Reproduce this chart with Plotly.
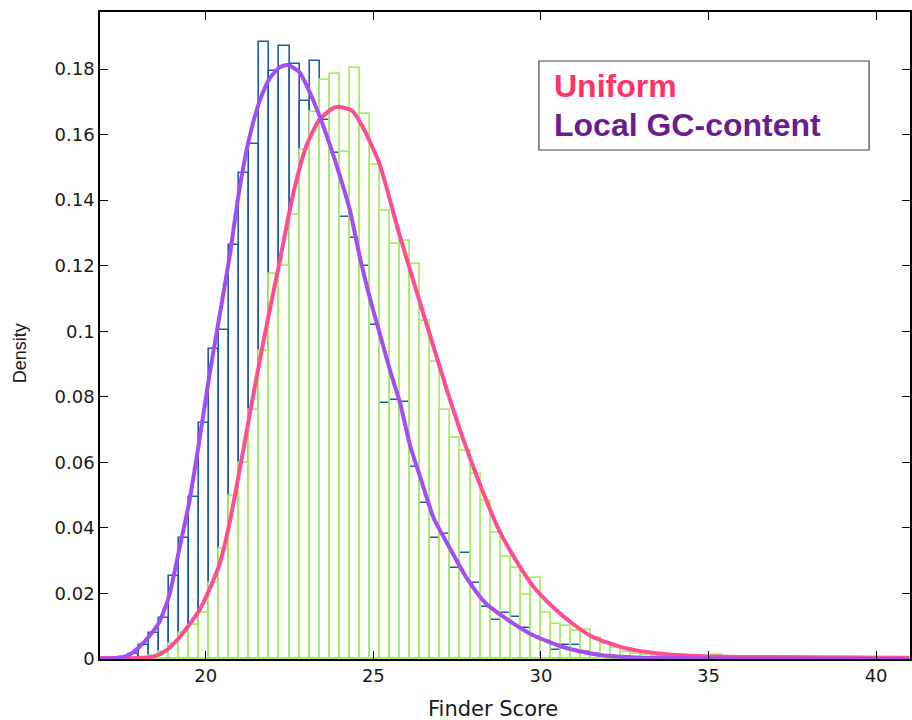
import plotly.graph_objects as go

# ---------------- data ----------------
bin_width = 0.3
# histogram bin centres (Finder Score)
local_bin_centers = [17.55, 17.85, 18.15, 18.45, 18.75, 19.05, 19.35, 19.65, 19.95, 20.25,
                     20.55, 20.85, 21.15, 21.45, 21.75, 22.05, 22.35, 22.65, 22.95, 23.25,
                     23.55, 23.85, 24.15, 24.45, 24.75, 25.05, 25.35, 25.65, 25.95, 26.25,
                     26.55, 26.85, 27.15, 27.45, 27.75, 28.05, 28.35, 28.65, 28.95, 29.25,
                     29.55, 29.85, 30.15, 30.45, 30.75, 31.05, 31.35, 31.65, 31.95, 32.25,
                     32.55, 32.85, 33.15]
local_density = [0.0005, 0.0015, 0.0043, 0.0078, 0.0124, 0.0253, 0.0368, 0.0495, 0.0719, 0.0946,
                 0.1003, 0.1263, 0.1483, 0.1570, 0.1881, 0.1794, 0.1871, 0.1814, 0.1703, 0.1824,
                 0.1646, 0.1545, 0.1349, 0.1285, 0.1198, 0.1020, 0.0780, 0.0790, 0.0784, 0.0587,
                 0.0477, 0.0368, 0.0381, 0.0277, 0.0322, 0.0231, 0.0160, 0.0119, 0.0139, 0.0127,
                 0.0096, 0.0068, 0.0055, 0.0027, 0.0042, 0.0042, 0.0020, 0.0014, 0.0010, 0.0007,
                 0.0004, 0.0003, 0.0002]

uniform_bin_centers = [18.45, 18.75, 19.05, 19.35, 19.65, 19.95, 20.25, 20.55, 20.85, 21.15,
                       21.45, 21.75, 22.05, 22.35, 22.65, 22.95, 23.25, 23.55, 23.85, 24.15,
                       24.45, 24.75, 25.05, 25.35, 25.65, 25.95, 26.25, 26.55, 26.85, 27.15,
                       27.45, 27.75, 28.05, 28.35, 28.65, 28.95, 29.25, 29.55, 29.85, 30.15,
                       30.45, 30.75, 31.05, 31.35, 31.65, 31.95, 32.25, 32.55, 32.85, 33.15,
                       33.45, 33.75, 34.05, 34.35, 34.65, 34.95, 35.25]
uniform_density = [0.0008, 0.0020, 0.0045, 0.0080, 0.0105, 0.0140, 0.0233, 0.0336, 0.0498, 0.0599,
                   0.0759, 0.0940, 0.1176, 0.1198, 0.1355, 0.1553, 0.1670, 0.1767, 0.1784, 0.1547,
                   0.1802, 0.1662, 0.1507, 0.1368, 0.1265, 0.1274, 0.1206, 0.1030, 0.0907, 0.0759,
                   0.0673, 0.0635, 0.0564, 0.0483, 0.0383, 0.0312, 0.0277, 0.0195, 0.0246, 0.0141,
                   0.0107, 0.0100, 0.0085, 0.0090, 0.0065, 0.0045, 0.0035, 0.0022, 0.0016, 0.0012,
                   0.0008, 0.0005, 0.0003, 0.0002, 0.0001, 0.0000, 0.0012]

# fitted density curves
local_fit_x = [16.85, 17.5, 17.8, 18.0, 18.3, 18.6, 18.9, 19.2, 19.5, 19.8, 20.1, 20.4, 20.7,
               21.0, 21.3, 21.6, 21.9, 22.2, 22.45, 22.8, 23.1, 23.4, 23.7, 24.0, 24.3, 24.6,
               24.9, 25.2, 25.5, 25.8, 26.1, 26.4, 26.8, 27.3, 27.8, 28.35, 28.95, 29.75, 30.7,
               31.7, 32.7, 34.0, 36.0, 41.0]
local_fit_y = [0.0, 0.0005, 0.0018, 0.0035, 0.0068, 0.0110, 0.0190, 0.0330, 0.0475, 0.0660,
               0.0860, 0.1040, 0.1220, 0.1430, 0.1590, 0.1700, 0.1770, 0.1805, 0.1812, 0.1790,
               0.1730, 0.1655, 0.1570, 0.1475, 0.1370, 0.1225, 0.1100, 0.0990, 0.0880, 0.0780,
               0.0650, 0.0555, 0.0430, 0.0335, 0.0245, 0.0170, 0.0124, 0.0073, 0.0035, 0.0013,
               0.0005, 0.0002, 0.0001, 0.0]

uniform_fit_x = [16.85, 18.0, 18.43, 18.8, 19.23, 19.82, 20.1, 20.42, 20.7, 21.01, 21.31, 21.61,
                 21.9, 22.2, 22.6, 23.0, 23.39, 23.79, 23.99, 24.38, 24.7, 25.18, 25.77, 26.37,
                 26.7, 27.26, 27.76, 28.25, 28.75, 29.25, 29.74, 30.34, 30.93, 31.53, 32.52,
                 33.51, 34.5, 36.0, 41.0]
uniform_fit_y = [0.0003, 0.0003, 0.0007, 0.0025, 0.0068, 0.0150, 0.0210, 0.0292, 0.0410, 0.0576,
                 0.0745, 0.0910, 0.1060, 0.1210, 0.1415, 0.1565, 0.1645, 0.1680, 0.1685, 0.1672,
                 0.1620, 0.1512, 0.1298, 0.1095, 0.0985, 0.0800, 0.0648, 0.0515, 0.0393, 0.0302,
                 0.0226, 0.0160, 0.0109, 0.0068, 0.0033, 0.0017, 0.0010, 0.0006, 0.0004]

y_ticks = [0, 0.02, 0.04, 0.06, 0.08, 0.1, 0.12, 0.14, 0.16, 0.18]
y_tick_text = ["0", "0.02", "0.04", "0.06", "0.08", "0.1", "0.12", "0.14", "0.16", "0.18"]
x_ticks = [20, 25, 30, 35, 40]

# ---------------- figure ----------------
W, H = 912, 720
ML, MR, MT, MB = 100, 0, 12, 61
fig = go.Figure()

fig.add_trace(go.Bar(x=local_bin_centers, y=local_density, width=bin_width,
                     marker=dict(color="rgba(0,0,0,0)", line=dict(color="#1F5BA8", width=1.6)),
                     name="Local GC-content histogram"))
fig.add_trace(go.Bar(x=uniform_bin_centers, y=uniform_density, width=bin_width,
                     marker=dict(color="rgba(0,0,0,0)", line=dict(color="#A9EE68", width=1.8)),
                     name="Uniform histogram"))
fig.add_trace(go.Scatter(x=uniform_fit_x, y=uniform_fit_y, mode="lines",
                         line=dict(color="#FF4C95", width=4, shape="spline", smoothing=0.6),
                         name="Uniform"))
fig.add_trace(go.Scatter(x=local_fit_x, y=local_fit_y, mode="lines",
                         line=dict(color="#A24DF5", width=4, shape="spline", smoothing=0.6),
                         name="Local GC-content"))

tick_font = dict(family="DejaVu Sans, Arial, sans-serif", size=18, color="#1a1a1a")
fig.update_layout(
    width=W, height=H,
    margin=dict(l=ML, r=MR, t=MT, b=MB, pad=0),
    plot_bgcolor="white", paper_bgcolor="white",
    barmode="overlay", bargap=0, showlegend=False,
    xaxis=dict(range=[16.845, 41.012], tickvals=x_ticks, ticks="inside", ticklen=8,
               tickcolor="black", showline=True, linecolor="black", linewidth=1.5,
               mirror="ticks", showgrid=False, zeroline=False, tickfont=tick_font),
    yaxis=dict(range=[0, 0.1974], tickvals=y_ticks, ticktext=y_tick_text, ticks="inside",
               ticklen=8, tickcolor="black", showline=True, linecolor="black", linewidth=1.5,
               mirror="ticks", showgrid=False, zeroline=False, tickfont=tick_font),
)

pw, ph = W - ML - MR, H - MT - MB

def px_x(px):
    return (px - ML) / pw

def px_y(py):
    return (H - MB - py) / ph

# axis titles
fig.add_annotation(text="Finder Score", xref="paper", yref="paper", x=px_x(494), y=px_y(709),
                   xanchor="center", yanchor="middle", showarrow=False,
                   font=dict(family="DejaVu Sans, Arial, sans-serif", size=21, color="#1a1a1a"))
fig.add_annotation(text="Density", xref="paper", yref="paper", x=px_x(20), y=px_y(353),
                   xanchor="center", yanchor="middle", showarrow=False, textangle=-90,
                   font=dict(family="Liberation Sans, Arial, sans-serif", size=18, color="#1a1a1a"))

# legend box
fig.add_shape(type="rect", xref="paper", yref="paper", x0=px_x(540), x1=px_x(871),
              y0=px_y(150), y1=px_y(61), line=dict(color="#444444", width=1.2),
              fillcolor="white", layer="above")
fig.add_annotation(text="<b>Uniform</b>", xref="paper", yref="paper", x=px_x(553), y=px_y(86),
                   xanchor="left", yanchor="middle", showarrow=False,
                   font=dict(family="Liberation Sans, Arial, sans-serif", size=32, color="#FF3366"))
fig.add_annotation(text="<b>Local GC-content</b>", xref="paper", yref="paper", x=px_x(553),
                   y=px_y(125), xanchor="left", yanchor="middle", showarrow=False,
                   font=dict(family="Liberation Sans, Arial, sans-serif", size=32, color="#6A1E8E"))

fig.write_html("out.html")
